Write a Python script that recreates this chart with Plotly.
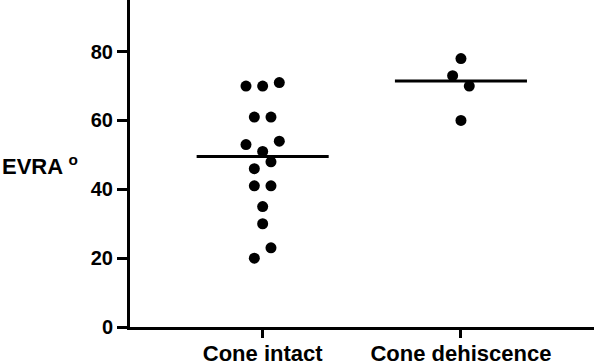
import plotly.graph_objects as go
import numpy as np

categories = ["Cone intact", "Cone dehiscence"]
cone_intact = [20, 23, 30, 35, 41, 41, 46, 48, 53, 51, 54, 61, 61, 70, 70, 71]
cone_dehiscence = [60, 73, 70, 78]
groups = [cone_intact, cone_dehiscence]
y_ticks = [0, 20, 40, 60, 80]

Y_MAX = 95
ROW_TOL = 3.4        # values within this spread share a swarm row
STEP = 0.042         # half-slot horizontal step in category units
HALF_W = 0.333       # half-width of the median line

def swarm(vals):
    order = sorted(range(len(vals)), key=lambda i: vals[i])
    rows, cur, start = [], [], None
    for i in order:
        if cur and vals[i] - start > ROW_TOL:
            rows.append(cur); cur = []
        if not cur:
            start = vals[i]
        cur.append(i)
    if cur:
        rows.append(cur)
    offs = [0.0] * len(vals)
    for r in rows:
        r = sorted(r)  # keep data order within a row
        n = len(r)
        for k, i in enumerate(r):
            offs[i] = (-(n - 1) + 2 * k) * STEP
    return offs

fig = go.Figure()
for ci, vals in enumerate(groups):
    offs = swarm(vals)
    fig.add_trace(go.Scatter(
        x=[ci + o for o in offs], y=vals, mode="markers",
        marker=dict(color="black", size=11, line=dict(width=0)),
        showlegend=False, hoverinfo="y"))
    med = float(np.median(vals))
    fig.add_trace(go.Scatter(
        x=[ci - HALF_W, ci + HALF_W], y=[med, med], mode="lines",
        line=dict(color="black", width=3), showlegend=False, hoverinfo="skip"))

font_fam = "Liberation Sans, Arial, sans-serif"
fig.update_layout(
    width=594, height=364,
    margin=dict(l=130, r=0, t=0, b=37),
    paper_bgcolor="white", plot_bgcolor="white",
    font=dict(family=font_fam, color="black"),
    xaxis=dict(
        range=[-0.669, 1.671], tickmode="array", tickvals=[0, 1], ticktext=categories,
        showgrid=False, zeroline=False, showline=True, linecolor="black", linewidth=3,
        ticks="outside", ticklen=8, tickwidth=3, tickcolor="black", automargin=False,
        ticklabelstandoff=-3,
        tickfont=dict(family=font_fam, size=22, weight="bold", color="black")),
    yaxis=dict(
        range=[0, Y_MAX], tickmode="array", tickvals=y_ticks,
        showgrid=False, zeroline=False, showline=True, linecolor="black", linewidth=3,
        ticks="outside", ticklen=10, tickwidth=3, tickcolor="black", automargin=False,
        tickfont=dict(family=font_fam, size=20, weight="bold", color="black")),
    annotations=[dict(
        text="EVRA <sup>o</sup>", xref="paper", yref="paper",
        x=-130 / 464, y=0.495, xanchor="left", yanchor="middle", showarrow=False,
        font=dict(family=font_fam, size=22, weight="bold", color="black"))],
)

fig.write_html("out.html", config={"displayModeBar": False},
               post_script="document.body.style.margin='0';document.body.style.overflow='hidden';")
